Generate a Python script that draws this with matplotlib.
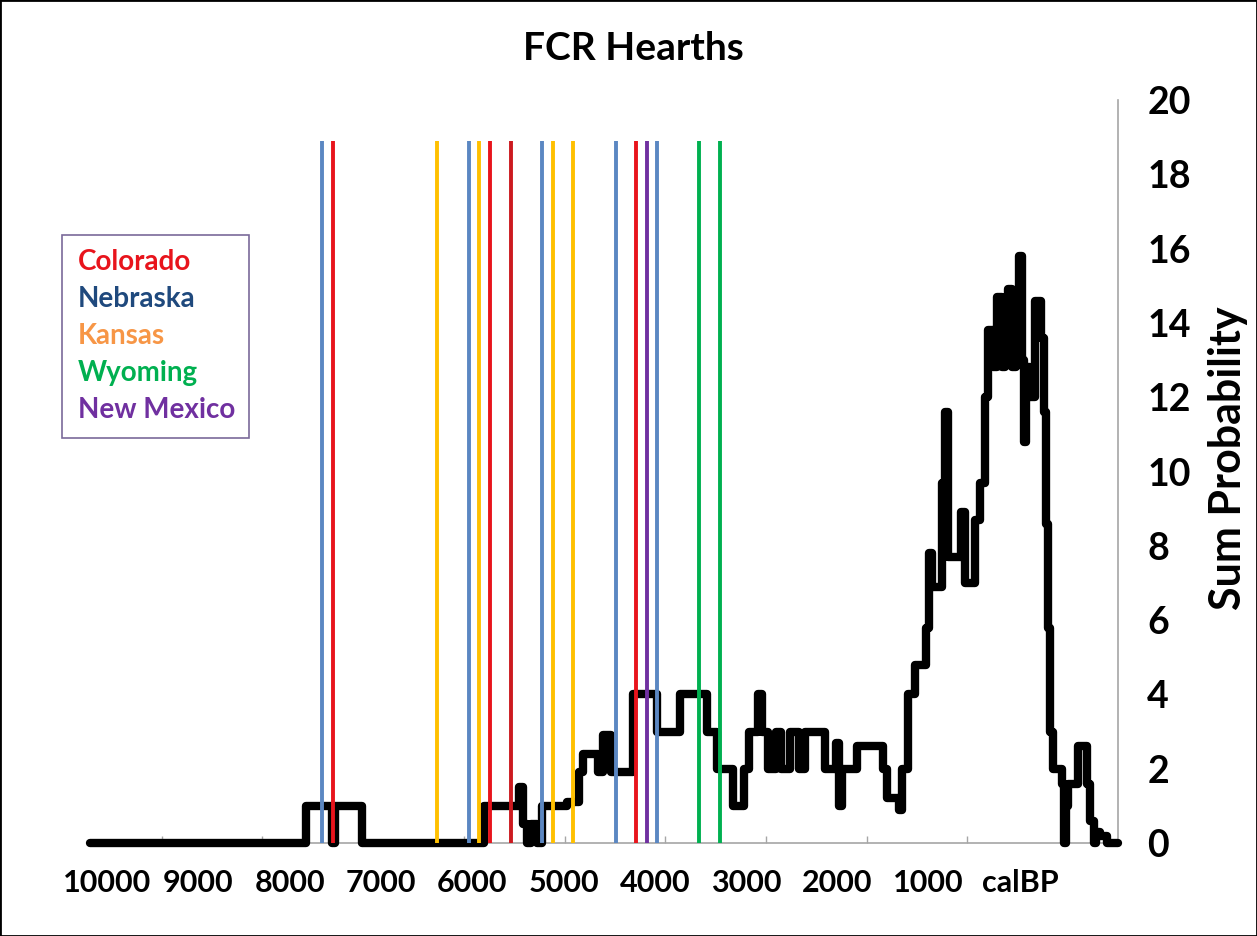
import numpy as np
import matplotlib
matplotlib.use("Agg")
import matplotlib.pyplot as plt
from matplotlib.patches import Rectangle

plt.rcParams["font.family"] = ["Lato", "DejaVu Sans"]
plt.rcParams["font.weight"] = "bold"

# summed probability, step starts (cal BP) and level from that start on
step_bp = [10190, 7820, 7540, 7500, 7207, 5871, 5487, 5444, 5400, 5356,
           5290, 5236, 4962, 4830, 4786, 4622, 4567, 4480, 4239, 3976,
           3724, 3428, 3319, 3144, 3023, 2968, 2870, 2826, 2760, 2673,
           2618, 2519, 2421, 2355, 2136, 2015, 1983, 1950, 1785, 1501,
           1457, 1325, 1292, 1227, 1150, 1030, 997, 964, 854, 821,
           789, 646, 602, 493, 438, 383, 350, 296, 252, 197,
           164, 131, 88, 44, 11, -22, -44, -66, -110, -164,
           -230, -263, -285, -307, -329, -361, -460, -482, -504, -526,
           -635, -734, -767, -811, -832, -876, -953]
step_val = [0, 1, 0, 1, 0, 1, 1.5, 0.5, 0, 0.5,
            0, 1.0, 1.1, 1.9, 2.4, 1.9, 2.9, 1.9, 4.0, 3.0,
            4.0, 3.0, 2.0, 1.0, 2.0, 3.0, 4.0, 3.0, 2.0, 3.0,
            2.0, 3.0, 2.0, 3.0, 2.0, 2.7, 1.0, 2.0, 2.6, 2.0,
            1.2, 0.9, 2.0, 4.0, 4.8, 5.8, 7.8, 6.9, 9.7, 11.6,
            7.7, 8.9, 7.0, 8.7, 9.7, 12.0, 13.8, 12.8, 14.7, 12.8,
            13.5, 14.9, 12.8, 13.2, 15.8, 13.0, 10.8, 12.8, 12.0, 14.6,
            13.6, 11.6, 8.6, 5.8, 3.0, 2.0, 1.6, 0.0, 1.0, 1.6,
            2.6, 1.6, 0.6, 0.0, 0.3, 0.2, 0.0]
curve_end = -1073

# individual hearth dates (cal BP) and their state
hearth_bp = [7642, 7521, 6386, 6038, 5922, 5805, 5578, 5232,
             5115, 4893, 4428, 4203, 4085, 3976, 3516, 3289]
hearth_state = ["NE", "CO", "KS", "NE", "KS", "CO", "CO2", "NE",
                "KS", "KS", "NE", "CO", "NM", "NE", "WY", "WY"]
line_colors = {"CO": "#e8141c", "CO2": "#cc1a1f", "NE": "#5b87c2",
               "KS": "#ffc000", "WY": "#00b050", "NM": "#7030a0"}

legend_names = ["Colorado", "Nebraska", "Kansas", "Wyoming", "New Mexico"]
legend_colors = ["#e8141c", "#1f497d", "#f79646", "#00b050", "#7030a0"]

x_ticks = [10000, 9000, 8000, 7000, 6000, 5000, 4000, 3000, 2000, 1000, 0]
x_labels = ["10000", "9000", "8000", "7000", "6000", "5000", "4000",
            "3000", "2000", "1000", "calBP"]
y_ticks = list(range(0, 21, 2))

W, H = 1257, 936
fig = plt.figure(figsize=(W / 100, H / 100), dpi=100)
ax = fig.add_axes([90 / W, 1 - 843 / H, (1118 - 90) / W, (843 - 100) / H])

xs = step_bp + [curve_end]
ys = step_val + [step_val[-1]]
ax.step(xs, ys, where="post", color="black", lw=6, zorder=3,
        solid_joinstyle="round", solid_capstyle="round", clip_on=False)

for bp, st in zip(hearth_bp, hearth_state):
    ax.plot([bp, bp], [0, 18.9], color=line_colors[st], lw=2.8, zorder=4,
            solid_capstyle="butt")

ax.set_xlim(10186, curve_end)
ax.set_ylim(0, 20)

ax.yaxis.tick_right()
ax.set_yticks(y_ticks)
ax.set_yticklabels([str(v) for v in y_ticks], fontsize=27, fontweight="bold")
ax.set_xticks(x_ticks)
ax.set_xticklabels(x_labels, fontsize=22, fontweight="bold")
ax.set_xticks(np.arange(-526, 10000, 1103), minor=True)
ax.tick_params(axis="x", which="major", length=0, pad=19)
ax.tick_params(axis="x", which="minor", direction="in", length=5,
               color="#a6a6a6", width=1)
ax.tick_params(axis="y", length=0, pad=21)

for side in ["left", "top"]:
    ax.spines[side].set_visible(False)
for side in ["right", "bottom"]:
    ax.spines[side].set_color("#a6a6a6")
    ax.spines[side].set_linewidth(1.2)

fig.text(633 / W, 1 - 48 / H, "FCR Hearths", ha="center", va="center",
         fontsize=28, fontweight="bold")
fig.text(1228 / W, 1 - 458 / H, "Sum Probability", rotation=90,
         ha="center", va="center", fontsize=31, fontweight="bold")

# state legend box
fig.patches.append(Rectangle((62 / W, 1 - 438 / H), (249 - 62) / W,
                             (438 - 235) / H, transform=fig.transFigure,
                             fill=False, edgecolor="#7a6a9a", lw=1.2))
for i, (name, col) in enumerate(zip(legend_names, legend_colors)):
    fig.text(78 / W, 1 - (262 + 37 * i) / H, name, color=col,
             ha="left", va="center", fontsize=20, fontweight="bold")

# outer frame
fig.patches.append(Rectangle((0, 0), 1, 1, transform=fig.transFigure,
                             fill=False, edgecolor="black", lw=2))

fig.savefig("out.png", dpi=100)
